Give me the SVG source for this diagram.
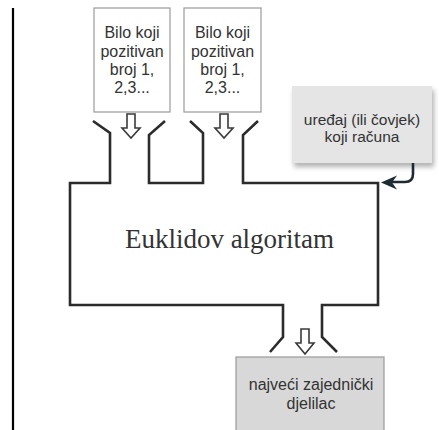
<svg xmlns="http://www.w3.org/2000/svg" width="439" height="430" viewBox="0 0 439 430">
  <style>
    .bg { fill: #ffffff; }
    .box { fill: #ffffff; stroke: #9a9a9a; stroke-width: 1.2; }
    .label { font-family: "Liberation Sans", Arial, sans-serif; font-size: 16px; fill: #333333; text-anchor: middle; }
    .title { font-family: "Liberation Serif", "Times New Roman", serif; font-size: 27px; fill: #333333; text-anchor: middle; }
    .wall { fill: none; stroke: #2b2b2b; stroke-width: 2.6; stroke-linejoin: miter; }
    .hollow { fill: #ffffff; stroke: #3a3a3a; stroke-width: 1.6; stroke-linejoin: miter; }
    .link { fill: none; stroke: #1f2b33; stroke-width: 2.6; }
  </style>
  <defs>
    <filter id="shadow" x="-10%" y="-10%" width="130%" height="140%">
      <feDropShadow dx="2" dy="4" stdDeviation="2.5" flood-color="#000000" flood-opacity="0.3"/>
    </filter>
  </defs>

  <rect class="bg" x="0" y="0" width="439" height="430"/>

  <!-- left margin rule -->
  <g id="margin-rule">
    <line x1="13" y1="8" x2="13" y2="430" stroke="#000000" stroke-width="2.2"/>
  </g>

  <!-- first input -->
  <g id="input-1">
    <rect class="box" x="94" y="8" width="76" height="104"/>
    <text class="label" x="132" y="38">Bilo koji</text>
    <text class="label" x="132" y="56.5">pozitivan</text>
    <text class="label" x="132" y="75">broj 1,</text>
    <text class="label" x="132" y="93">2,3...</text>
  </g>

  <!-- second input -->
  <g id="input-2">
    <rect class="box" x="184" y="8" width="77" height="104"/>
    <text class="label" x="222.5" y="38">Bilo koji</text>
    <text class="label" x="222.5" y="56.5">pozitivan</text>
    <text class="label" x="222.5" y="75">broj 1,</text>
    <text class="label" x="222.5" y="93">2,3...</text>
  </g>

  <!-- computing device -->
  <g id="device">
    <rect x="292" y="86" width="140" height="77" fill="#e5e5e5" filter="url(#shadow)"/>
    <text class="label" x="362" y="125" style="font-size:15.5px">uređaj (ili čovjek)</text>
    <text class="label" x="362" y="142" style="font-size:15.5px">koji računa</text>
  </g>

  <!-- algorithm body with inlet and outlet funnels -->
  <g id="algorithm">
    <path class="wall" d="M93,121 L110,133 L110,183 L70,183 L70,305 L283,305 L283,337 L270,352"/>
    <path class="wall" d="M165,121 L149,135 L149,183 L203,183 L203,133 L190,121"/>
    <path class="wall" d="M258,121 L243,135 L243,183 L378,183 L378,305 L322,305 L322,337 L337,352"/>
    <text class="title" x="229.5" y="248">Euklidov algoritam</text>
  </g>

  <!-- result -->
  <g id="output">
    <rect x="236" y="357" width="148" height="80" fill="#d8d8d8" stroke="#9a9a9a" stroke-width="1.2"/>
    <text class="label" x="311" y="390">najveći zajednički</text>
    <text class="label" x="311" y="409">djelilac</text>
  </g>

  <!-- connectors -->
  <g id="connectors">
    <path class="hollow" d="M127,114 H135 V128 H140 L131,138 L122,128 H127 Z"/>
    <path class="hollow" d="M220,114 H228 V128 H233 L224,138 L215,128 H220 Z"/>
    <path class="hollow" d="M301,329 H309 V343 H314 L305,354 L296,343 H301 Z"/>
    <path class="link" d="M413,163 V174 Q413,182 405,182 H390"/>
    <path d="M381,182.5 L397,175.5 L392,182.5 L397,189.5 Z" fill="#1f2b33"/>
  </g>
</svg>
